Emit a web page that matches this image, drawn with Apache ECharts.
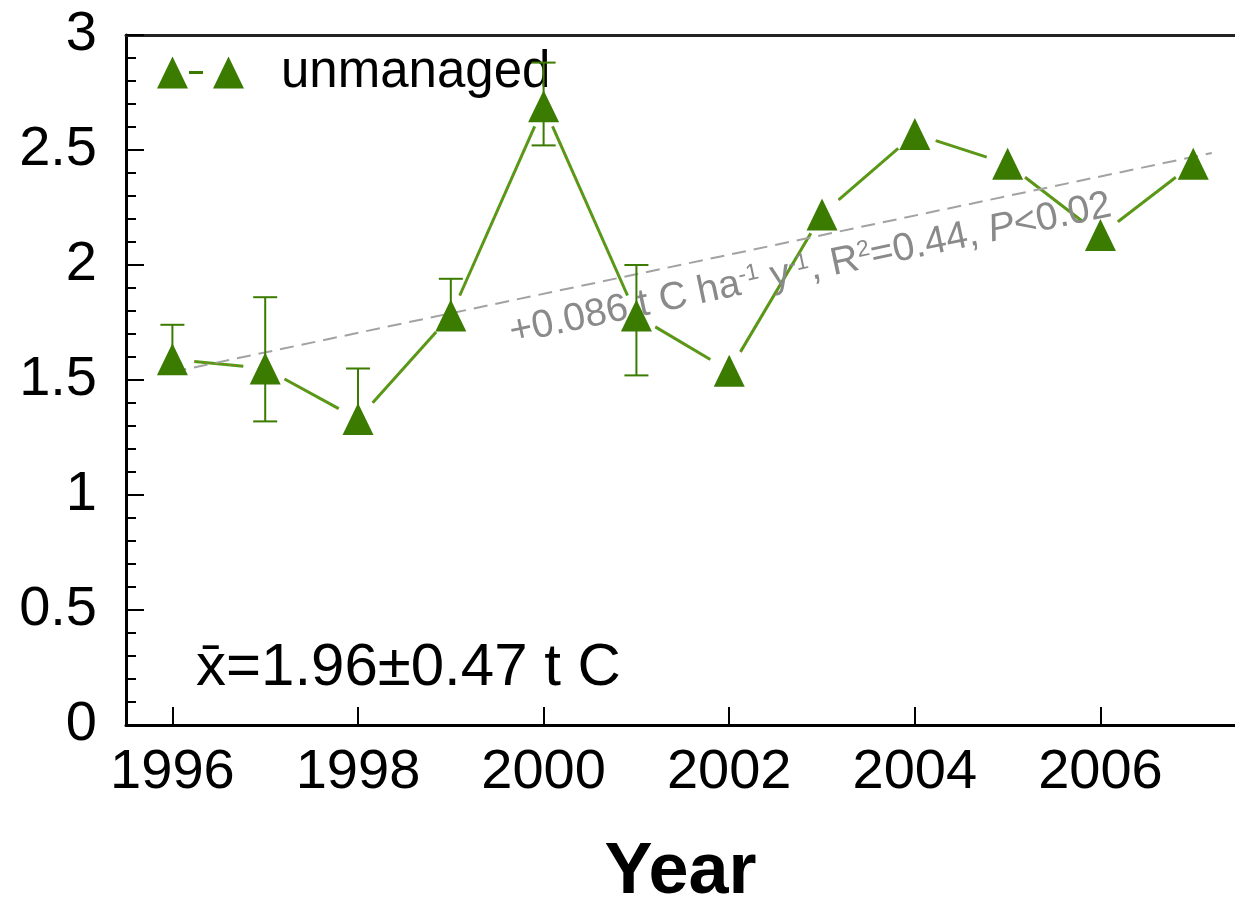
<!DOCTYPE html>
<html>
<head>
<meta charset="utf-8">
<script src="https://cdn.jsdelivr.net/npm/echarts@6/dist/echarts.min.js"></script>
<style>html,body{margin:0;padding:0;background:#fff;}#chart{width:1235px;height:905px;}</style>
</head>
<body>
<div id="chart"></div>
<script>
// ---- data ----
const years = [1996, 1997, 1998, 1999, 2000, 2001, 2002, 2003, 2004, 2005, 2006, 2007];
const carbon = [1.59, 1.55, 1.33, 1.78, 2.69, 1.78, 1.54, 2.22, 2.57, 2.44, 2.13, 2.44];
const errUpper = [1.74, 1.86, 1.55, 1.94, 2.88, 2.00, null, null, null, null, null, null];
const errLower = [null, 1.32, null, null, 2.52, 1.52, null, null, null, null, null, null];
const trendYears = [1996, 2007.2];
const trendValues = [1.535, 2.487];
const xTickLabels = [1996, 1998, 2000, 2002, 2004, 2006];
const seriesName = 'unmanaged';
const trendLabel = '+0.086 t C ha{sup|-1} y{sup|-1}, R{sup|2}=0.44, {i|P}<0.02';
const meanLabel = 'x\u0304=1.96\u00b10.47 t C';

const FONT = '"Liberation Sans", Arial, sans-serif';
const GREEN = '#3b7b00';
const LINE_GREEN = '#48a010';

const chart = echarts.init(document.getElementById('chart'));

const pointData = years.map((y, i) => [y, carbon[i]]);
const segData = years.slice(0, -1).map((y, i) => [y, carbon[i], years[i + 1], carbon[i + 1]]);
const errData = [];
years.forEach((y, i) => {
  if (errUpper[i] != null || errLower[i] != null) {
    errData.push([
      y, carbon[i],
      errLower[i] != null ? errLower[i] : carbon[i],
      errUpper[i] != null ? errUpper[i] : carbon[i],
      errLower[i] != null ? 1 : 0,
      errUpper[i] != null ? 1 : 0
    ]);
  }
});
const trendData = trendYears.map((x, i) => [x, trendValues[i]]);

const option = {
  animation: false,
  textStyle: { fontFamily: FONT },
  grid: { left: 126, top: 35, right: 0, height: 690, show: false, outerBoundsMode: 'none', containLabel: false },
  legend: {
    data: [seriesName],
    left: 157, top: 47, padding: 0,
    icon: 'path://M0,32L15.5,0L31,32Z M32,14.5L46,14.5L46,17.5L32,17.5Z M56,32L71.5,0L87,32Z',
    itemWidth: 87, itemHeight: 32,
    textStyle: { fontSize: 51, color: '#000', fontFamily: FONT, padding: [12, 0, 0, 32] }
  },
  xAxis: [{
    type: 'value', min: 1995.5, max: 2007.45,
    axisLine: { lineStyle: { color: '#000', width: 3 } },
    axisTick: { inside: true, length: 18, lineStyle: { color: '#000', width: 2 }, customValues: xTickLabels },
    axisLabel: { customValues: xTickLabels, fontSize: 56, color: '#000', margin: 20, formatter: v => String(v) },
    splitLine: { show: false },
    name: 'Year', nameLocation: 'middle', nameGap: 112,
    nameTextStyle: { fontSize: 72, fontWeight: 'bold', color: '#000' }
  }, {
    type: 'value', position: 'top', min: 1995.5, max: 2007.45,
    axisLine: { show: true, lineStyle: { color: '#222', width: 3 } },
    axisTick: { show: false }, axisLabel: { show: false }, splitLine: { show: false }
  }],
  yAxis: {
    type: 'value', min: 0, max: 3, interval: 0.5,
    axisLine: { show: true, lineStyle: { color: '#000', width: 3 } },
    axisTick: { inside: true, length: 18, lineStyle: { color: '#000', width: 2 } },
    minorTick: { show: true, splitNumber: 5, length: 10, lineStyle: { color: '#000', width: 2 } },
    axisLabel: { fontSize: 56, color: '#000', margin: 29 },
    splitLine: { show: false }
  },
  series: [
    {
      type: 'line', name: 'trend', data: trendData, symbol: 'none', silent: true,
      lineStyle: { color: '#a2a2a2', width: 2, type: [14, 8] }, z: 3
    },
    {
      type: 'custom', name: 'segments', data: segData, silent: true, z: 2,
      renderItem: function (params, api) {
        const a = api.coord([api.value(0), api.value(1)]);
        const b = api.coord([api.value(2), api.value(3)]);
        const dx = b[0] - a[0], dy = b[1] - a[1];
        const L = Math.hypot(dx, dy), g = 22;
        const ux = dx / L, uy = dy / L;
        const shape = { x1: a[0] + ux * g, y1: a[1] + uy * g, x2: b[0] - ux * g, y2: b[1] - uy * g };
        return {
          type: 'group', children: [
            { type: 'line', shape: shape, style: { stroke: LINE_GREEN, lineWidth: 3 } },
            { type: 'line', shape: shape, style: { stroke: '#c0653a', lineWidth: 1.1, lineDash: [2, 3] } }
          ]
        };
      }
    },
    {
      type: 'custom', name: 'errors', data: errData, silent: true, z: 4,
      renderItem: function (params, api) {
        const x = api.value(0);
        const lo = api.coord([x, api.value(2)]);
        const hi = api.coord([x, api.value(3)]);
        const cw = 12;
        const st = { stroke: GREEN, lineWidth: 2 };
        const ch = [{ type: 'line', shape: { x1: lo[0], y1: lo[1], x2: hi[0], y2: hi[1] }, style: st }];
        if (api.value(5)) ch.push({ type: 'line', shape: { x1: hi[0] - cw, y1: hi[1], x2: hi[0] + cw, y2: hi[1] }, style: st });
        if (api.value(4)) ch.push({ type: 'line', shape: { x1: lo[0] - cw, y1: lo[1], x2: lo[0] + cw, y2: lo[1] }, style: st });
        return { type: 'group', children: ch };
      }
    },
    {
      type: 'scatter', name: seriesName, data: pointData,
      symbol: 'triangle', symbolSize: [31, 32],
      itemStyle: { color: GREEN, opacity: 1 }, z: 5
    }
  ],
  graphic: [
    {
      type: 'text', x: 514, y: 352, rotation: 12 * Math.PI / 180, z: 10,
      style: {
        text: trendLabel, fontSize: 39, fontFamily: FONT, fill: '#8a8a8a',
        verticalAlign: 'bottom', align: 'left',
        rich: {
          sup: { fontSize: 23, fill: '#8a8a8a', verticalAlign: 'top', fontFamily: FONT },
          i: { fontSize: 39, fill: '#8a8a8a', fontStyle: 'italic', fontFamily: FONT }
        }
      }
    },
    {
      type: 'text', x: 196, y: 638, z: 10,
      style: { text: meanLabel, fontSize: 60, fontFamily: FONT, fill: '#000', verticalAlign: 'top', align: 'left' }
    }
  ]
};
chart.setOption(option);
</script>
</body>
</html>
